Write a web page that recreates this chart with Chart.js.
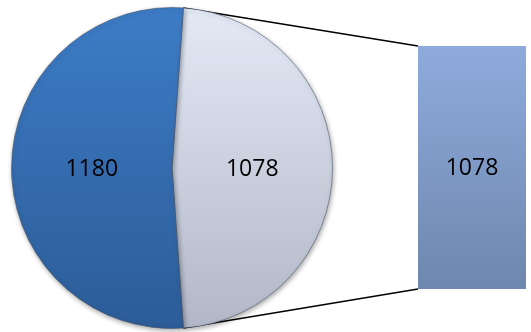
<!DOCTYPE html>
<html>
<head>
<meta charset="utf-8">
<script src="https://cdn.jsdelivr.net/npm/chart.js@4"></script>
<style>
  html, body { margin: 0; padding: 0; background: #fff; }
  #wrap { position: relative; width: 531px; height: 332px; overflow: hidden; }
  #pieChart { position: absolute; left: 0; top: 0; }
  #barChart { position: absolute; left: 418px; top: 46px; }
</style>
</head>
<body>
<div id="wrap">
  <canvas id="pieChart" width="531" height="332"></canvas>
  <canvas id="barChart" width="113" height="250"></canvas>
</div>
<script>
// ---------- 数据 ----------
const pieLabels = ['其他', '主要'];
const pieValues = [1078, 1180];
const barLabels = ['1078'];
const barValues = [1078];

const labelFont = '23px "Open Sans", "Liberation Sans", sans-serif';
const pieColors = [['#e3e9f5', '#b2b7c7'], ['#3d7cc6', '#2c5c98']];

// 渐变填充
function vGrad(chart, top, bottom) {
    const area = chart.chartArea;
    if (!area) return top;
    const g = chart.ctx.createLinearGradient(0, area.top, 0, area.bottom);
    g.addColorStop(0, top);
    g.addColorStop(1, bottom);
    return g;
}

// 数值标签
const valueLabels = {
    id: 'valueLabels',
    afterDatasetsDraw(chart) {
        const ctx = chart.ctx;
        const meta = chart.getDatasetMeta(0);
        const values = chart.data.datasets[0].data;
        ctx.save();
        ctx.font = labelFont;
        ctx.fillStyle = '#000';
        ctx.textAlign = 'center';
        ctx.textBaseline = 'middle';
        meta.data.forEach((el, i) => {
            const p = el.getCenterPoint();
            ctx.fillText(String(values[i]), p.x, p.y + 1);
        });
        ctx.restore();
    }
};

// 阴影
const softShadow = {
    id: 'softShadow',
    beforeDatasetsDraw(chart, args, opts) {
        chart.ctx.save();
        chart.ctx.shadowColor = 'rgba(0,0,0,0.35)';
        chart.ctx.shadowBlur = opts.blur || 4;
        chart.ctx.shadowOffsetX = opts.dx || 1;
        chart.ctx.shadowOffsetY = opts.dy || 2;
    },
    afterDatasetsDraw(chart) {
        chart.ctx.restore();
    }
};

// ---------- 右侧条形 ----------
const barCanvas = document.getElementById('barChart');
const barChart = new Chart(barCanvas.getContext('2d'), {
    type: 'bar',
    data: {
        labels: barLabels,
        datasets: [{
            data: barValues,
            backgroundColor: (c) => vGrad(c.chart, '#8eabdc', '#6f87ae'),
            borderWidth: 0,
            barPercentage: 1,
            categoryPercentage: 1
        }]
    },
    options: {
        responsive: false,
        animation: false,
        layout: { padding: { left: 0, top: 0, right: 5, bottom: 7 } },
        scales: {
            x: { display: false },
            y: { display: false, min: 0, max: barValues[0] }
        },
        plugins: { legend: { display: false }, tooltip: { enabled: false }, softShadow: { blur: 5, dx: 1, dy: 3 } }
    },
    plugins: [softShadow, valueLabels]
});

// 连接线（画在饼图后面）
const connectorLines = {
    id: 'connectorLines',
    beforeDatasetsDraw(chart) {
        const arc = chart.getDatasetMeta(0).data[0];
        const bar = barChart.getDatasetMeta(0).data[0];
        if (!arc || !bar) return;
        const ox = barCanvas.offsetLeft, oy = barCanvas.offsetTop;
        const left = ox + bar.x - bar.width / 2;
        const top = oy + bar.y;
        const bottom = oy + bar.base;
        const r = arc.outerRadius;
        const p1 = { x: arc.x + r * Math.cos(arc.startAngle), y: arc.y + r * Math.sin(arc.startAngle) };
        const p2 = { x: arc.x + r * Math.cos(arc.endAngle), y: arc.y + r * Math.sin(arc.endAngle) };
        const ctx = chart.ctx;
        ctx.save();
        ctx.strokeStyle = '#000';
        ctx.lineWidth = 1.5;
        ctx.beginPath();
        ctx.moveTo(p1.x, p1.y);
        ctx.lineTo(left, top);
        ctx.moveTo(p2.x, p2.y);
        ctx.lineTo(left, bottom);
        ctx.stroke();
        ctx.restore();
    }
};

// ---------- 左侧饼图 ----------
const total = pieValues.reduce((a, b) => a + b, 0);
const otherSweep = pieValues[0] / total * 360;

new Chart(document.getElementById('pieChart').getContext('2d'), {
    type: 'pie',
    data: {
        labels: pieLabels,
        datasets: [{
            data: pieValues,
            backgroundColor: (c) => {
                const pair = pieColors[c.dataIndex] || pieColors[0];
                return vGrad(c.chart, pair[0], pair[1]);
            },
            borderColor: 'rgba(70,80,100,0.55)',
            borderWidth: 1
        }]
    },
    options: {
        responsive: false,
        animation: false,
        rotation: 90 - otherSweep / 2,
        layout: { padding: { left: 11, top: 7, right: 198, bottom: 3 } },
        plugins: { legend: { display: false }, tooltip: { enabled: false }, softShadow: { blur: 5, dx: 1, dy: 2 } }
    },
    plugins: [connectorLines, softShadow, valueLabels]
});
</script>
</body>
</html>
